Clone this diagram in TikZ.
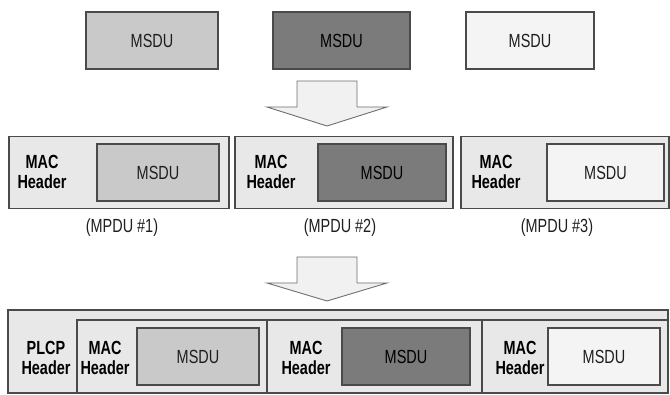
\documentclass[tikz,border=0pt]{standalone}
\usepackage{fontspec}
\usetikzlibrary{calc}
\newfontfamily\narrowsans{Liberation Sans}[FakeStretch=0.76]
\definecolor{edgec}{HTML}{4A4A4A}
\definecolor{lightc}{HTML}{C9C9C9}
\definecolor{darkc}{HTML}{7B7B7B}
\definecolor{paperc}{HTML}{F4F4F4}
\definecolor{framec}{HTML}{E8E8E8}
\definecolor{arrowc}{HTML}{F1F1F1}
\definecolor{inkc}{HTML}{1E1E1E}
\tikzset{
  blk/.style={draw=edgec, line width=1.3pt, inner sep=0pt, text=inkc,
    font=\narrowsans\fontsize{19}{20}\selectfont},
  lightblk/.style={blk, fill=lightc},
  darkblk/.style={blk, fill=darkc, text=black},
  paperblk/.style={blk, fill=paperc},
  framebox/.style={draw=edgec, line width=1.2pt, fill=framec, inner sep=0pt},
  hdr/.style={align=center, text=black, inner sep=0pt,
    font=\narrowsans\bfseries\fontsize{19}{20}\selectfont},
  caption/.style={text=inkc, inner sep=0pt,
    font=\narrowsans\fontsize{19}{20}\selectfont},
  bigarrow/.style={draw=edgec!80, line width=0.9pt, fill=arrowc, line join=miter},
}
\begin{document}
\begin{tikzpicture}[x=1pt, y=-1pt]
\useasboundingbox (0,0) rectangle (670,395);

% row 1: the three MSDUs
\node[lightblk, minimum width=132pt, minimum height=57pt] (m1) at (152,40.5) {MSDU};
\node[darkblk,  minimum width=137pt, minimum height=57pt] (m2) at (341.5,40.5) {MSDU};
\node[paperblk, minimum width=128pt, minimum height=57pt] (m3) at (530,40.5) {MSDU};

% first down arrow
\coordinate (a1) at (327,81);
\draw[bigarrow] ($(a1)+(-30,0)$) -- ($(a1)+(30,0)$) -- ($(a1)+(30,26)$) -- ($(a1)+(60,26)$)
  -- ($(a1)+(0,45)$) -- ($(a1)+(-60,26)$) -- ($(a1)+(-30,26)$) -- cycle;

% row 2: MPDUs
\node[framebox, minimum width=220pt, minimum height=72pt] (f1) at (119,172.5) {};
\node[framebox, minimum width=218pt, minimum height=72pt] (f2) at (344,172.5) {};
\node[framebox, minimum width=208pt, minimum height=72pt] (f3) at (565,172.5) {};
\node[lightblk, minimum width=122pt, minimum height=57pt] (s1) at (158,172.5) {MSDU};
\node[darkblk,  minimum width=128pt, minimum height=57pt] (s2) at (382,172.5) {MSDU};
\node[paperblk, minimum width=117pt, minimum height=57pt] (s3) at (605.5,172.5) {MSDU};
\node[hdr] (h1) at (42,172) {MAC\\Header};
\node[hdr] (h2) at (271,172) {MAC\\Header};
\node[hdr] (h3) at (496,172) {MAC\\Header};
\node[caption] (c1) at (122,228) {(MPDU \#1)};
\node[caption] (c2) at (340,228) {(MPDU \#2)};
\node[caption] (c3) at (557,228) {(MPDU \#3)};

% second down arrow
\coordinate (a2) at (327,257);
\draw[bigarrow] ($(a2)+(-30,0)$) -- ($(a2)+(30,0)$) -- ($(a2)+(30,26)$) -- ($(a2)+(60,26)$)
  -- ($(a2)+(0,44)$) -- ($(a2)+(-60,26)$) -- ($(a2)+(-30,26)$) -- cycle;

% row 3: PLCP frame carrying the MPDUs
\node[framebox, minimum width=660pt, minimum height=83pt] (pf) at (338,351.5) {};
\node[framebox, minimum width=190pt, minimum height=73pt] (g1) at (172,356.5) {};
\node[framebox, minimum width=215pt, minimum height=73pt] (g2) at (374.5,356.5) {};
\node[framebox, minimum width=186pt, minimum height=73pt] (g3) at (575,356.5) {};
\node[lightblk, minimum width=122pt, minimum height=57pt] (t1) at (198,356.5) {MSDU};
\node[darkblk,  minimum width=128pt, minimum height=57pt] (t2) at (406,356.5) {MSDU};
\node[paperblk, minimum width=112pt, minimum height=57pt] (t3) at (604,356.5) {MSDU};
\node[hdr] (p0) at (46,358) {PLCP\\Header};
\node[hdr] (p1) at (105,358) {MAC\\Header};
\node[hdr] (p2) at (306,358) {MAC\\Header};
\node[hdr] (p3) at (520,358) {MAC\\Header};
\end{tikzpicture}
\end{document}
